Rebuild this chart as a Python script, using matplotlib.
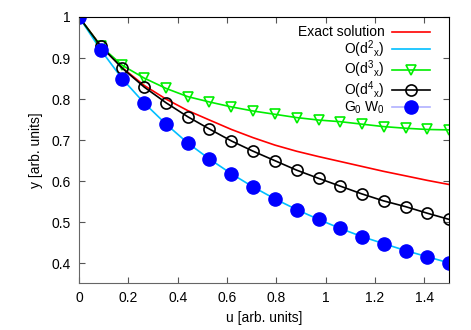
import numpy as np
import matplotlib
matplotlib.use("Agg")
import matplotlib.pyplot as plt
from matplotlib.lines import Line2D

plt.rcParams['font.family'] = ['Liberation Sans', 'DejaVu Sans']
plt.rcParams['mathtext.fontset'] = 'custom'
plt.rcParams['mathtext.rm'] = 'Liberation Sans'
plt.rcParams['mathtext.it'] = 'Liberation Sans'
plt.rcParams['font.size'] = 10

# sample points (18 evenly spaced in u)
u = [0.0, 0.088, 0.176, 0.265, 0.353, 0.441, 0.529, 0.618, 0.706,
     0.794, 0.882, 0.971, 1.059, 1.147, 1.235, 1.324, 1.412, 1.5]

exact = [1.0, 0.930, 0.876, 0.833, 0.800, 0.772, 0.749, 0.726, 0.706,
         0.688, 0.673, 0.660, 0.648, 0.636, 0.624, 0.613, 0.602, 0.592]
o_d2 = [1.0, 0.920, 0.849, 0.790, 0.739, 0.693, 0.654, 0.618, 0.586,
        0.557, 0.531, 0.507, 0.485, 0.465, 0.448, 0.431, 0.416, 0.401]
o_d3 = [1.0, 0.929, 0.882, 0.851, 0.826, 0.806, 0.793, 0.781, 0.771,
        0.763, 0.755, 0.749, 0.745, 0.739, 0.733, 0.729, 0.726, 0.725]
o_d4 = [1.0, 0.929, 0.875, 0.829, 0.791, 0.757, 0.727, 0.698, 0.673,
        0.650, 0.627, 0.607, 0.588, 0.569, 0.552, 0.538, 0.522, 0.507]
g0w0 = o_d2

fig = plt.figure(figsize=(4.71, 3.30), dpi=100)
ax = fig.add_axes([79/471, 1 - 283/330, 370/471, 266/330])

ax.plot(u, exact, color='#ff0000', lw=1.2, label='Exact solution')
ax.plot(u, o_d2, color='#00bfff', lw=1.2, label=r'O(d$^{\mathrm{2}}{}_{\mathrm{x}}$)')
ax.plot(u, o_d3, color='#00ee00', lw=1.2, marker='v', ms=7,
        mfc='none', mec='#00ee00', mew=1.2, label=r'O(d$^{\mathrm{3}}{}_{\mathrm{x}}$)')
ax.plot(u, o_d4, color='black', lw=1.2, marker='o', ms=8,
        mfc='none', mec='black', mew=1.2, label=r'O(d$^{\mathrm{4}}{}_{\mathrm{x}}$)')
ax.plot(u, g0w0, color='#b0b0ff', lw=1.2, ls='none', marker='o', ms=9.5,
        mfc='#0000ff', mec='#0000ff', label=r'G$_{\mathrm{0}}$ W$_{\mathrm{0}}$')

# legend handle for G0W0 shows a pale line
handles, labels = ax.get_legend_handles_labels()
handles[-1] = Line2D([], [], color='#b0b0ff', lw=1.2, marker='o', ms=9.5,
                     mfc='#0000ff', mec='#0000ff')
ax.legend(handles, labels, loc='upper right', bbox_to_anchor=(0.965, 0.99),
          frameon=False, markerfirst=False, handlelength=2.8, handleheight=0.5,
          labelspacing=-0.08, handletextpad=0.5, borderaxespad=0)

ax.set_xlim(0, 1.5)
ax.set_ylim(0.352, 1.0)
ax.set_xticks([0, 0.2, 0.4, 0.6, 0.8, 1.0, 1.2, 1.4])
ax.set_xticklabels(['0', '0.2', '0.4', '0.6', '0.8', '1', '1.2', '1.4'])
ax.set_yticks([0.4, 0.5, 0.6, 0.7, 0.8, 0.9, 1.0])
ax.set_yticklabels(['0.4', '0.5', '0.6', '0.7', '0.8', '0.9', '1'])
ax.tick_params(direction='in', top=True, right=True, length=4, width=0.8,
               color='#555555', pad=6)
for side in ['left', 'bottom']:
    ax.spines[side].set_color('#666666')
for side in ['top', 'right']:
    ax.spines[side].set_color('black')

ax.set_xlabel('u [arb. units]', labelpad=4)
ax.set_ylabel('y [arb. units]', labelpad=6)

fig.savefig('out.png', dpi=100)
